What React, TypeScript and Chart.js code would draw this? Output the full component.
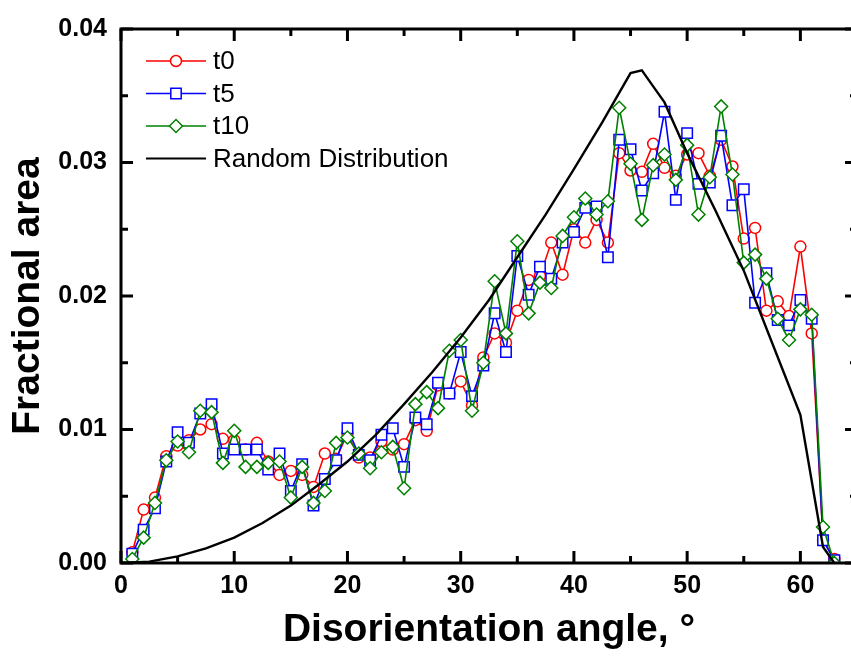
import React, { useEffect, useRef } from "react";
import { Chart, registerables } from "chart.js";

Chart.register(...registerables);

// ---------- data ----------
const angles = [
  1, 2, 3, 4, 5, 6, 7, 8, 9, 10, 11, 12, 13, 14, 15, 16, 17, 18, 19, 20, 21,
  22, 23, 24, 25, 26, 27, 28, 29, 30, 31, 32, 33, 34, 35, 36, 37, 38, 39, 40,
  41, 42, 43, 44, 45, 46, 47, 48, 49, 50, 51, 52, 53, 54, 55, 56, 57, 58, 59,
  60, 61, 62, 63,
];

const t0 = [
  0.0008, 0.004, 0.0049, 0.008, 0.0088, 0.0092, 0.01, 0.0104, 0.0093, 0.0092,
  0.0085, 0.009, 0.0076, 0.0066, 0.0069, 0.0066, 0.0057, 0.0082, 0.0078, 0.0097,
  0.0079, 0.0079, 0.0091, 0.0085, 0.0089, 0.0107, 0.0099, 0.0133, 0.0127, 0.0136,
  0.0118, 0.0154, 0.0172, 0.0165, 0.0189, 0.0212, 0.0215, 0.024, 0.0216, 0.025,
  0.024, 0.0257, 0.024, 0.0307, 0.0294, 0.0293, 0.0314, 0.0296, 0.029, 0.0306,
  0.0307, 0.029, 0.0317, 0.0297, 0.0243, 0.0251, 0.0189, 0.0196, 0.0185, 0.0237,
  0.0172, 0.0017, 0.0003,
];

const t5 = [
  0.0007, 0.0025, 0.0041, 0.0076, 0.0098, 0.009, 0.0112, 0.0119, 0.0082, 0.0085,
  0.0085, 0.0085, 0.007, 0.0082, 0.0054, 0.0074, 0.0043, 0.0063, 0.0077, 0.0101,
  0.0081, 0.0077, 0.0096, 0.0101, 0.0072, 0.0109, 0.0104, 0.0135, 0.0127, 0.0158,
  0.0125, 0.0148, 0.0187, 0.0158, 0.023, 0.0201, 0.0222, 0.0213, 0.024, 0.0248,
  0.0266, 0.0267, 0.0229, 0.0317, 0.031, 0.0279, 0.0292, 0.0338, 0.0272, 0.0322,
  0.0284, 0.0285, 0.032, 0.0268, 0.028, 0.0195, 0.0217, 0.0182, 0.0178, 0.0197,
  0.0183, 0.0017, 0.0002,
];

const t10 = [
  0.0003, 0.0019, 0.0045, 0.0077, 0.0091, 0.0083, 0.0114, 0.0113, 0.0075, 0.0099,
  0.0072, 0.0072, 0.0075, 0.0076, 0.0049, 0.0072, 0.0045, 0.0054, 0.009, 0.0094,
  0.0082, 0.0071, 0.0083, 0.0087, 0.0056, 0.0119, 0.0128, 0.0116, 0.0159, 0.0167,
  0.0114, 0.015, 0.0211, 0.0172, 0.0241, 0.0187, 0.021, 0.0206, 0.0245, 0.0259,
  0.0273, 0.0261, 0.0271, 0.0341, 0.0299, 0.0257, 0.0298, 0.0306, 0.0287, 0.0313,
  0.0261, 0.0289, 0.0342, 0.0291, 0.0225, 0.0231, 0.0213, 0.0183, 0.0167, 0.019,
  0.0186, 0.0027, 0.0,
];

const randomAngles = [
  0, 2.5, 5, 7.5, 10, 12.5, 15, 17.5, 20, 22.5, 25, 27.5, 30, 32.5, 35, 37.5, 40,
  42.5, 45, 46, 47, 48, 50, 52.5, 55, 57.5, 60, 62, 63,
];
const randomValues = [
  0, 0.0001, 0.0005, 0.0011, 0.0019, 0.003, 0.0043, 0.0059, 0.0076, 0.0096,
  0.0119, 0.0143, 0.0169, 0.0197, 0.0229, 0.0261, 0.0295, 0.033, 0.0367, 0.0369,
  0.0357, 0.0345, 0.0307, 0.0264, 0.0219, 0.0165, 0.0111, 0.0012, 0,
];

const xTickValues = [0, 10, 20, 30, 40, 50, 60];
const yTickValues = [0, 0.01, 0.02, 0.03, 0.04];
const xMinorStep = 5;
const yMinorStep = 0.005;

const seriesLabels = ["t0", "t5", "t10", "Random Distribution"];
const seriesColors = ["#ff0000", "#0000ff", "#008000", "#000000"];
const seriesMarkers = ["circle", "rect", "rectRot", "none"];

const FONT = "'Liberation Sans', Arial, Helvetica, sans-serif";

function drawMarker(ctx, style, x, y, color) {
  ctx.save();
  ctx.strokeStyle = color;
  ctx.fillStyle = "#fff";
  ctx.lineWidth = 1.5;
  ctx.beginPath();
  if (style === "circle") {
    ctx.arc(x, y, 5.5, 0, Math.PI * 2);
  } else if (style === "rect") {
    ctx.rect(x - 5.2, y - 5.2, 10.4, 10.4);
  } else if (style === "rectRot") {
    const r = 6.5;
    ctx.moveTo(x - r, y);
    ctx.lineTo(x, y - r);
    ctx.lineTo(x + r, y);
    ctx.lineTo(x, y + r);
    ctx.closePath();
  }
  ctx.fill();
  ctx.stroke();
  ctx.restore();
}

const framePlugin = {
  id: "frame",
  afterDatasetsDraw(chart) {
    const { ctx, chartArea, scales } = chart;
    const { left, right, top, bottom } = chartArea;
    const xs = scales.x;
    const ys = scales.y;
    ctx.save();
    ctx.strokeStyle = "#000";
    ctx.lineWidth = 3;
    ctx.lineCap = "butt";
    ctx.beginPath();
    ctx.rect(left, top, right - left, bottom - top);
    ctx.stroke();
    ctx.lineWidth = 3;
    const line = (x1, y1, x2, y2) => {
      ctx.beginPath();
      ctx.moveTo(x1, y1);
      ctx.lineTo(x2, y2);
      ctx.stroke();
    };
    for (let i = 0; i * xMinorStep <= xs.max + 1e-9; i++) {
      const v = i * xMinorStep;
      const px = xs.getPixelForValue(v);
      const len = i % 2 === 0 ? 12 : 7;
      line(px, bottom, px, bottom - len);
      line(px, top, px, top + len);
    }
    for (let i = 0; i * yMinorStep <= ys.max + 1e-9; i++) {
      const v = i * yMinorStep;
      const py = ys.getPixelForValue(v);
      const len = i % 2 === 0 ? 12 : 7;
      line(left, py, left + len, py);
      line(right, py, right - len, py);
    }
    ctx.restore();
  },
};

const legendPlugin = {
  id: "customLegend",
  afterDraw(chart) {
    const { ctx } = chart;
    const x0 = 146;
    const x1 = 206;
    const rowY = [61, 93.5, 126, 158.5];
    ctx.save();
    ctx.font = `26px ${FONT}`;
    ctx.textBaseline = "middle";
    ctx.textAlign = "left";
    chart.data.datasets.forEach((ds, i) => {
      const y = rowY[i];
      ctx.strokeStyle = seriesColors[i];
      ctx.lineWidth = i === 3 ? 2.2 : 1.6;
      ctx.beginPath();
      ctx.moveTo(x0, y);
      ctx.lineTo(x1, y);
      ctx.stroke();
      if (seriesMarkers[i] !== "none") {
        drawMarker(ctx, seriesMarkers[i], (x0 + x1) / 2, y, seriesColors[i]);
      }
      ctx.fillStyle = "#000";
      ctx.fillText(ds.label, 213, y + 1);
    });
    ctx.restore();
  },
};

export default function App() {
  const canvasRef = useRef(null);

  useEffect(() => {
    const canvas = canvasRef.current;
    if (!canvas) return;
    const mk = (vals) => angles.map((a, i) => ({ x: a, y: vals[i] }));
    const seriesData = [t0, t5, t10];
    const datasets = seriesData.map((vals, i) => ({
      label: seriesLabels[i],
      data: mk(vals),
      borderColor: seriesColors[i],
      backgroundColor: "#ffffff",
      borderWidth: 1.6,
      pointStyle: seriesMarkers[i],
      pointRadius: seriesMarkers[i] === "circle" ? 5.5 : seriesMarkers[i] === "rect" ? 7.4 : 6.5,
      pointBorderWidth: 1.5,
      pointBorderColor: seriesColors[i],
      pointBackgroundColor: "#ffffff",
      tension: 0,
      order: 3 - i,
    }));
    datasets.push({
      label: seriesLabels[3],
      data: randomAngles.map((a, i) => ({ x: a, y: randomValues[i] })),
      borderColor: "#000000",
      backgroundColor: "#000000",
      borderWidth: 2.4,
      pointRadius: 0,
      tension: 0,
      order: 0,
    });

    const chart = new Chart(canvas, {
      type: "line",
      data: { datasets },
      plugins: [framePlugin, legendPlugin],
      options: {
        responsive: false,
        animation: false,
        devicePixelRatio: 1,
        layout: { padding: { top: 22, right: 43, left: 0, bottom: 0 } },
        plugins: { legend: { display: false }, tooltip: { enabled: false } },
        scales: {
          x: {
            type: "linear",
            min: 0,
            max: 65,
            afterBuildTicks: (s) => {
              s.ticks = xTickValues.map((v) => ({ value: v }));
            },
            afterFit: (s) => {
              s.height = 95;
            },
            grid: { display: false, drawTicks: false },
            border: { display: false },
            ticks: {
              color: "#000",
              padding: 8,
              maxRotation: 0,
              font: { family: FONT, size: 25, weight: "bold" },
            },
            title: {
              display: true,
              text: "Disorientation angle, °",
              color: "#000",
              padding: { top: 0, bottom: 4 },
              font: { family: FONT, size: 39, weight: "bold" },
            },
          },
          y: {
            type: "linear",
            min: 0,
            max: 0.04,
            afterBuildTicks: (s) => {
              s.ticks = yTickValues.map((v) => ({ value: v }));
            },
            afterFit: (s) => {
              s.width = 121;
            },
            grid: { display: false, drawTicks: false },
            border: { display: false },
            ticks: {
              color: "#000",
              padding: 14,
              font: { family: FONT, size: 25, weight: "bold" },
              callback: (v) => Number(v).toFixed(2),
            },
            title: {
              display: true,
              text: "Fractional area",
              color: "#000",
              padding: { top: 5, bottom: 0 },
              font: { family: FONT, size: 39, weight: "bold" },
            },
          },
        },
      },
    });
    return () => chart.destroy();
  }, []);

  return (
    <div
      style={{
        position: "fixed",
        left: 0,
        top: 0,
        width: 851,
        height: 658,
        overflow: "hidden",
        background: "#fff",
      }}
    >
      <canvas
        ref={canvasRef}
        width={900}
        height={658}
        style={{ display: "block", width: 900, height: 658 }}
      />
    </div>
  );
}
